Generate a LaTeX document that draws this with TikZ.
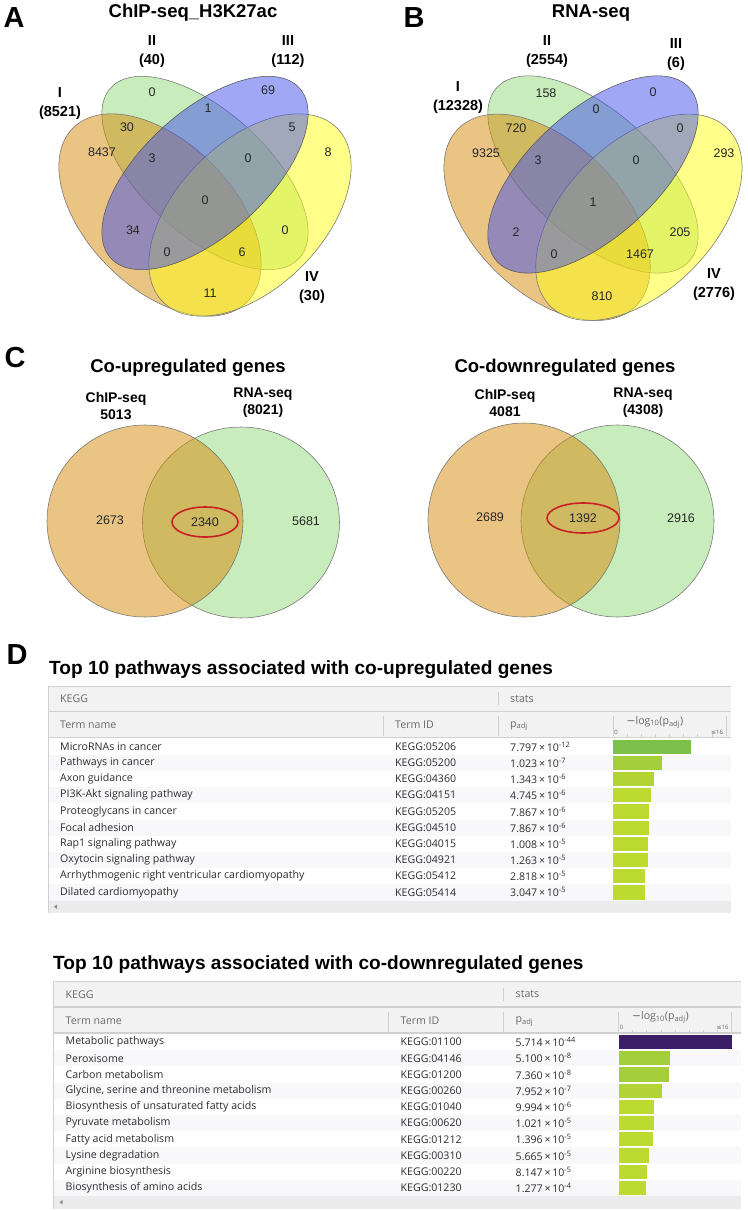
\documentclass[tikz,border=0pt]{standalone}
\usepackage{fontspec}
\setmainfont{Liberation Sans}
\newfontfamily\tabfont{Open Sans}
\newfontfamily\symfont{DejaVu Sans}
\usetikzlibrary{positioning}

\definecolor{vennorange}{RGB}{214,138,8}
\definecolor{venngreen}{RGB}{146,218,122}
\definecolor{vennblue}{RGB}{66,82,236}
\definecolor{vennyellow}{RGB}{255,255,20}
\definecolor{vennedge}{RGB}{115,115,115}
\definecolor{circlered}{RGB}{200,32,38}
\definecolor{hdrgrey}{RGB}{242,242,242}
\definecolor{gridgrey}{RGB}{208,208,210}
\definecolor{rowgrey}{RGB}{248,248,250}
\definecolor{scrollgrey}{RGB}{236,236,236}
\definecolor{hdrtext}{RGB}{105,105,105}
\definecolor{rowtext}{RGB}{45,45,45}
\definecolor{barhigh}{RGB}{124,194,74}
\definecolor{barmid}{RGB}{164,207,58}
\definecolor{barmidlo}{RGB}{178,212,52}
\definecolor{barlow}{RGB}{188,218,48}
\definecolor{bartop}{RGB}{58,30,104}

\tikzset{
  panelletter/.style={font=\fontsize{29}{29}\selectfont\bfseries, inner sep=0pt},
  ptitle/.style={font=\fontsize{18.5}{20}\selectfont\bfseries, inner sep=0pt},
  ttitle/.style={font=\fontsize{19.1}{21}\selectfont\bfseries, inner sep=0pt, anchor=west},
  setlbl/.style={font=\fontsize{14.5}{19}\selectfont\bfseries, align=center, inner sep=0pt},
  circlbl/.style={font=\fontsize{14}{17}\selectfont\bfseries, align=center, inner sep=0pt},
  cnt/.style={font=\fontsize{12.5}{14}\selectfont, text=black!85, inner sep=0pt},
  setI/.style={fill=vennorange, fill opacity=0.5, draw=vennedge, line width=0.55pt},
  setII/.style={fill=venngreen, fill opacity=0.5, draw=vennedge, line width=0.55pt},
  setIII/.style={fill=vennblue, fill opacity=0.5, draw=vennedge!75!black, line width=0.55pt},
  setIV/.style={fill=vennyellow, fill opacity=0.5, draw=vennedge, line width=0.55pt},
  redring/.style={draw=circlered, line width=1.6pt},
  hdrtxt/.style={font=\tabfont\fontsize{10.6}{12}\selectfont, text=hdrtext, anchor=west, inner sep=0pt},
  rowtxt/.style={font=\tabfont\fontsize{10.6}{12}\selectfont, text=rowtext, anchor=west, inner sep=0pt},
  axtxt/.style={font=\tabfont\fontsize{6}{7}\selectfont, text=hdrtext, inner sep=0pt},
  gridline/.style={draw=gridgrey, line width=0.8pt},
  divider/.style={draw=gridgrey, line width=0.7pt}
}

% four tilted ellipses around a centre point
\newcommand{\fourvenn}[3]{%
  \begin{scope}[shift={(#1,#2)}, scale=#3]
    \filldraw[setII, rotate around={-42:(0,-27)}] (0,-27) ellipse [x radius=127, y radius=62];
    \filldraw[setI, rotate around={-45:(-45,15)}] (-45,15) ellipse [x radius=123, y radius=73];
    \filldraw[setIV, rotate around={45:(45,15)}] (45,15) ellipse [x radius=123, y radius=73];
    \filldraw[setIII, rotate around={42:(0,-27)}] (0,-27) ellipse [x radius=127, y radius=62];
  \end{scope}}

% g:Profiler style table; #1 prefix, #2 right end, #3 rows
\newcommand{\keggtable}[3]{%
  \fill[hdrgrey] (48,686) rectangle (#2,737);
  \foreach \r in {1,3,5,7,9}
    \fill[rowgrey] (48,{738.5+16.2*\r}) rectangle (#2,{738.5+16.2*(\r+1)});
  \fill[scrollgrey] (48,900.5) rectangle (#2,913);
  \fill[black!45] (54,906.7) -- (57,904.5) -- (57,908.9) -- cycle;
  \draw[gridline] (#2,686) -- (48,686) -- (48,913);
  \draw[gridline, line width=1.2pt] (48,711.5) -- (#2,711.5);
  \draw[gridline, line width=1.5pt] (48,737.6) -- (#2,737.6);
  \draw[divider] (498,692) -- (498,705);
  \foreach \dx in {383,498,613,726}
    \draw[divider] (\dx,716) -- (\dx,736);
  \foreach \k in {1,...,7}
    \draw[divider] ({613+14.125*\k},734) -- ++(0,2.5);
  \node[hdrtxt] (#1kegg) at (60,699) {KEGG};
  \node[hdrtxt] (#1stats) at (510,699) {stats};
  \node[hdrtxt] (#1term) at (60,725) {Term name};
  \node[hdrtxt] (#1tid) at (395,725) {Term ID};
  \node[hdrtxt] (#1padj) at (510,726) {p\textsubscript{adj}};
  \node[hdrtxt, anchor=center] (#1logp) at (655,722) {{\symfont −}log\textsubscript{10}(p\textsubscript{adj})};
  \node[axtxt] (#1zero) at (616,732) {0};
  \node[axtxt] (#1max) at (717,732) {{\symfont ≤}16};
  \foreach \nm/\tid/\man/\ex/\val/\col [count=\i from 0] in {#3}{
    \fill[fill=\col] (613,{739.5+16.2*\i}) rectangle ++({7.0625*\val},14.2);
    \node[rowtxt] (#1name\i) at (60,{746.6+16.2*\i}) {\nm};
    \node[rowtxt] (#1id\i) at (395,{746.6+16.2*\i}) {\tid};
    \node[rowtxt] (#1p\i) at (510,{746.6+16.2*\i}) {\man\,×\,10\textsuperscript{\ex}};
  }}

\begin{document}
\begin{tikzpicture}[x=1pt, y=-1pt]
\useasboundingbox (0,0) rectangle (747,1210);
\fill[white] (0,0) rectangle (747,1210);

% A and B: four-set Venn diagrams
\fourvenn{205}{200}{1}
\fourvenn{593}{202}{1.02}

\node[panelletter] (letA) at (14,18) {A};
\node[panelletter] (letB) at (414,18) {B};
\node[ptitle] (titA) at (193,13) {ChIP-seq\_H3K27ac};
\node[ptitle] (titB) at (591,13) {RNA-seq};

\node[setlbl] (aI) at (60,104) {I\\(8521)};
\node[setlbl] (aII) at (152,52) {II\\(40)};
\node[setlbl] (aIII) at (288,52) {III\\(112)};
\node[setlbl] (aIV) at (312,288) {IV\\(30)};
\node[setlbl] (bI) at (458,98) {I\\(12328)};
\node[setlbl] (bII) at (547,52) {II\\(2554)};
\node[setlbl] (bIII) at (676,55) {III\\(6)};
\node[setlbl] (bIV) at (714,285) {IV\\(2776)};

\foreach \px/\py/\v [count=\k] in {152/92/0, 268/90/69, 208/108/1, 127/127/30, 292/127/5,
    102/152/8437, 328/152/8, 152/158/3, 248/158/0, 205/200/0, 133/230/34, 285/230/0,
    167/252/0, 242/252/6, 210/293/11}
  \node[cnt] (na\k) at (\px,\py) {\v};
\foreach \px/\py/\v [count=\k] in {546/93/158, 653/92/0, 596/109/0, 516/128/720, 680/128/0,
    486/153/9325, 724/153/293, 538/160/3, 636/160/0, 593/202/1, 516/232/2, 680/232/205,
    554/254/0, 640/254/1467, 602/296/810}
  \node[cnt] (nb\k) at (\px,\py) {\v};

% C: two-set Venn diagrams
\node[panelletter] (letC) at (15,358) {C};
\node[ptitle] (titCup) at (188,368) {Co-upregulated genes};
\node[ptitle] (titCdn) at (565,368) {Co-downregulated genes};

\filldraw[setII] (241,522.5) ellipse [x radius=98.5, y radius=95.5];
\filldraw[setI] (145,521) ellipse [x radius=98, y radius=96];
\filldraw[setII] (617.5,521) ellipse [x radius=96.5, y radius=96];
\filldraw[setI] (524,520) ellipse [x radius=96, y radius=97];

\node[circlbl] (upchip) at (116,406) {ChIP-seq\\5013};
\node[circlbl] (uprna) at (263,403) {RNA-seq\\(8021)};
\node[circlbl] (dnchip) at (505,403) {ChIP-seq\\4081};
\node[circlbl] (dnrna) at (643,403) {RNA-seq\\(4308)};

\node[cnt] (uponly) at (110,520) {2673};
\node[cnt] (upboth) at (205,522) {2340};
\node[cnt] (uprnaonly) at (306,521) {5681};
\node[cnt] (dnonly) at (490,517) {2689};
\node[cnt] (dnboth) at (583,518) {1392};
\node[cnt] (dnrnaonly) at (681,518) {2916};
\draw[redring] (upboth) ellipse [x radius=33, y radius=15];
\draw[redring] (dnboth) ellipse [x radius=36, y radius=15];

% D: pathway tables
\node[panelletter] (letD) at (17,655) {D};
\node[ttitle] (titDup) at (49,670) {Top 10 pathways associated with co-upregulated genes};
\node[ttitle] (titDdn) at (53,965) {Top 10 pathways associated with co-downregulated genes};

\keggtable{up}{731}{MicroRNAs in cancer/KEGG:05206/7.797/-12/11.108/barhigh,
  Pathways in cancer/KEGG:05200/1.023/-7/6.990/barmid,
  Axon guidance/KEGG:04360/1.343/-6/5.872/barmidlo,
  PI3K-Akt signaling pathway/KEGG:04151/4.745/-6/5.324/barlow,
  Proteoglycans in cancer/KEGG:05205/7.867/-6/5.104/barlow,
  Focal adhesion/KEGG:04510/7.867/-6/5.104/barlow,
  Rap1 signaling pathway/KEGG:04015/1.008/-5/4.997/barlow,
  Oxytocin signaling pathway/KEGG:04921/1.263/-5/4.899/barlow,
  Arrhythmogenic right ventricular cardiomyopathy/KEGG:05412/2.818/-5/4.550/barlow,
  Dilated cardiomyopathy/KEGG:05414/3.047/-5/4.516/barlow}

\begin{scope}[shift={(5.5,295.5)}]
\keggtable{dn}{735.5}{Metabolic pathways/KEGG:01100/5.714/-44/16/bartop,
  Peroxisome/KEGG:04146/5.100/-8/7.292/barmid,
  Carbon metabolism/KEGG:01200/7.360/-8/7.133/barmid,
  {Glycine, serine and threonine metabolism}/KEGG:00260/7.952/-7/6.100/barmidlo,
  Biosynthesis of unsaturated fatty acids/KEGG:01040/9.994/-6/5.000/barlow,
  Pyruvate metabolism/KEGG:00620/1.021/-5/4.991/barlow,
  Fatty acid metabolism/KEGG:01212/1.396/-5/4.855/barlow,
  Lysine degradation/KEGG:00310/5.665/-5/4.247/barlow,
  Arginine biosynthesis/KEGG:00220/8.147/-5/4.089/barlow,
  Biosynthesis of amino acids/KEGG:01230/1.277/-4/3.894/barlow}
\end{scope}
\end{tikzpicture}
\end{document}
